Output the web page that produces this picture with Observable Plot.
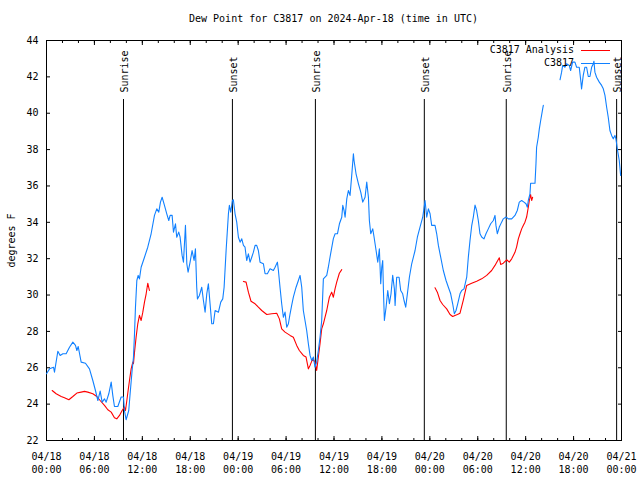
<!DOCTYPE html>
<html>
<head>
<meta charset="utf-8">
<script src="https://cdn.jsdelivr.net/npm/d3@7"></script>
<script src="https://cdn.jsdelivr.net/npm/@observablehq/plot@0.6"></script>
<style>
  html, body { margin: 0; padding: 0; background: #fff; }
  #wrap { position: relative; width: 640px; height: 480px; font-family: "DejaVu Sans Mono", "Liberation Mono", monospace; font-size: 10px; color: #000; }
  #title { position: absolute; left: 46px; top: 12px; width: 575px; text-align: center; line-height: 14px; white-space: pre; }
  #chart { position: absolute; left: 0; top: 30px; }
  .lg-row { position: absolute; height: 14px; line-height: 14px; }
  .lg-text { position: absolute; right: 66px; white-space: pre; }
  .lg-line { position: absolute; left: 581px; width: 29px; height: 0; }
</style>
</head>
<body>
<div id="wrap">
  <div id="title"></div>
  <div id="chart"></div>
  <div id="legend"></div>
</div>
<script>
// ---------- data ----------
const titleText = "Dew Point for C3817 on 2024-Apr-18 (time in UTC)";
const yLabel = "degrees F";
const startUTC = [2024, 3, 18];           // 04/18 00:00 UTC
const spanHours = 72;
const yDomain = [22, 44];
const yTicks = [22, 24, 26, 28, 30, 32, 34, 36, 38, 40, 42, 44];
const seriesNames = ["C3817 Analysis", "C3817"];
const seriesColors = ["#ff0000", "#1080ff"];

// observed dew point (hours since 04/18 00:00 UTC), null = gap
const obsHours = [0.0,0.38,0.88,1.0,1.42,1.71,2.05,2.46,2.88,3.3,3.63,3.8,3.97,4.34,4.88,5.38,5.8,6.13,6.43,6.72,6.97,7.26,7.47,7.8,8.1,8.3,8.51,8.93,9.35,9.64,9.76,9.97,10.3,10.47,10.72,10.89,11.02,11.14,11.31,11.48,11.64,11.85,12.27,12.68,13.1,13.52,13.81,14.06,14.27,14.48,14.77,15.06,15.31,15.48,15.73,15.9,16.15,16.31,16.56,16.73,16.98,17.15,17.4,17.57,17.73,17.98,18.23,18.48,18.65,
  18.81,18.9,19.15,19.44,19.65,19.86,20.07,20.27,20.48,20.69,20.9,21.11,21.53,21.82,22.07,22.24,22.49,22.78,22.9,23.07,23.28,23.4,23.61,23.82,24.03,24.24,24.45,24.66,24.86,25.07,25.28,25.49,25.7,25.91,26.12,26.32,26.53,26.74,27.16,27.37,27.66,27.99,28.41,28.62,28.91,29.04,29.24,29.45,29.66,29.87,30.08,30.29,30.5,30.7,30.91,31.25,31.54,31.75,31.96,32.16,32.37,32.58,32.79,33.0,33.21,33.42,33.62,33.83,34.04,34.25,34.46,34.67,35.09,35.29,35.5,35.92,
  36.14,36.43,36.68,36.97,37.1,37.26,37.39,37.6,37.8,38.01,38.22,38.43,38.51,38.76,39.06,39.35,39.6,39.89,40.1,40.31,40.43,40.6,40.85,41.02,41.27,41.48,41.68,41.85,41.98,42.1,42.19,42.31,42.52,42.73,42.94,43.14,43.35,43.56,43.65,43.85,44.15,44.35,44.6,44.77,44.98,45.19,45.44,45.73,46.15,46.44,46.77,47.11,47.32,47.4,47.61,47.82,48.03,48.23,48.65,48.86,49.07,49.36,49.69,50.03,50.32,50.61,50.86,51.07,51.28,51.49,51.78,51.99,52.28,52.62,52.82,
  53.03,53.24,53.45,53.66,53.86,54.07,54.28,54.49,54.78,55.03,55.32,55.62,55.95,56.16,56.28,56.45,56.7,56.99,57.2,57.54,57.83,58.25,58.66,58.95,59.2,59.5,59.79,60.04,60.21,60.33,60.54,60.62,61.17,61.29,61.37,61.58,61.71,61.88,62.13,62.21,
  63.2,
  64.3,64.5,64.63,64.92,65.13,65.46,65.63,65.88,66.17,66.38,66.71,66.92,67.0,67.21,67.42,67.63,67.84,68.05,68.26,68.47,68.55,68.67,68.88,69.22,69.51,69.72,69.93,70.14,70.34,70.55,70.76,70.97,71.18,71.3,71.51,71.72,71.89];
const obsDew = [25.67,25.94,26.03,25.76,26.91,26.68,26.77,26.77,27.13,27.41,27.23,26.95,27.17,26.31,26.25,25.94,25.3,24.75,24.2,24.72,24.11,24.29,24.11,24.57,25.21,24.48,23.87,23.87,24.39,24.39,23.65,23.14,23.65,24.57,25.85,26.58,27.87,29.33,30.8,31.08,30.89,31.53,32.08,32.63,33.37,34.38,34.74,34.56,35.11,35.38,34.93,34.47,34.1,34.38,34.38,33.46,33.92,33.18,33.46,33.18,32.18,31.81,33.83,31.72,31.26,31.81,32.45,31.9,32.54,
  30.43,29.79,29.98,30.43,29.7,29.06,30.07,30.62,29.52,28.42,28.42,29.15,29.06,29.61,29.79,30.43,32.45,34.47,34.93,34.56,35.2,35.24,34.47,34.01,33.18,32.91,33.09,32.73,32.63,31.9,32.27,31.81,32.08,32.36,32.73,32.73,32.45,31.81,31.72,31.17,31.17,31.44,31.35,31.53,31.81,31.35,30.43,29.52,28.78,29.06,28.23,28.42,28.97,29.43,29.88,30.43,30.8,31.08,30.43,29.15,28.6,28.05,27.32,26.68,26.4,26.59,26.03,26.31,26.95,27.68,28.6,30.89,31.08,31.53,32.08,33.1,
  33.37,33.37,33.92,34.28,34.93,34.65,34.28,35.29,35.75,35.48,36.58,37.77,37.4,36.67,36.12,35.66,35.11,35.38,36.21,35.38,34.1,33.37,33.64,33.18,32.45,31.81,32.54,30.62,31.53,31.9,30.25,28.6,29.33,30.25,29.52,30.07,31.08,30.34,29.43,30.98,30.98,30.25,30.07,29.7,29.33,30.07,30.98,31.72,32.45,33.18,33.73,34.28,34.93,35.2,34.28,34.74,34.47,33.83,33.83,33.37,32.73,32.08,31.35,30.8,30.43,30.07,29.52,28.97,29.15,29.52,30.07,30.25,30.34,30.98,32.08,
  33.0,33.8,34.3,34.95,34.65,34.1,33.37,33.19,33.09,33.37,33.64,33.92,34.1,34.38,33.83,33.37,33.74,34.01,34.19,34.29,34.19,34.19,34.38,34.65,35.11,35.2,35.11,35.02,34.83,35.2,35.57,36.15,36.15,37.22,38.13,38.68,39.14,39.6,40.24,40.43,
  null,
  41.84,42.26,42.63,42.53,42.72,42.63,42.35,42.81,42.81,42.53,42.53,41.71,41.34,42.08,42.53,42.53,42.02,42.02,42.53,42.72,42.86,42.26,41.98,41.71,41.53,41.34,40.98,40.33,39.78,39.05,38.78,38.59,38.78,38.59,37.95,37.4,36.58];

// analysis dew point (hours since 04/18 00:00 UTC), null = gap
const anaHours = [0.71,1.21,1.84,2.25,2.8,3.3,3.8,4.34,4.76,5.17,5.8,6.3,6.72,7.26,7.68,8.1,8.51,8.8,9.14,9.47,9.76,9.89,10.06,10.22,10.39,10.6,10.81,10.89,11.02,11.22,11.43,11.64,11.85,12.06,12.27,12.48,12.68,12.89,
  18,
  24.66,24.99,25.28,25.61,26.12,26.53,26.95,27.58,28.2,28.83,29.16,29.45,29.87,30.5,30.91,31.33,31.66,32.16,32.5,32.79,33.0,33.33,33.62,33.83,34.04,34.25,34.46,34.67,34.88,35.09,35.42,35.71,35.92,36.13,36.34,36.67,36.97,
  42,
  48.65,48.94,49.28,49.61,50.11,50.53,50.86,51.15,51.45,51.78,52.2,52.61,53.24,53.87,54.49,55.12,55.74,56.16,56.45,56.7,56.87,57.2,57.62,57.95,58.25,58.66,58.87,59.08,59.29,59.5,59.7,59.91,60.12,60.33,60.46,60.62,60.75,60.87];
const anaDew = [24.75,24.57,24.42,24.35,24.24,24.42,24.61,24.66,24.7,24.66,24.57,24.42,24.2,23.93,23.69,23.56,23.25,23.19,23.38,23.65,23.84,23.65,24.2,24.75,25.3,25.94,26.31,26.22,26.86,27.68,28.42,28.88,28.6,29.06,29.61,30.07,30.65,30.25,
  null,
  30.75,30.71,30.16,29.66,29.52,29.33,29.15,28.93,28.97,29.0,28.69,28.14,27.96,27.78,27.68,27.23,26.95,26.68,26.59,25.94,26.13,26.49,26.31,25.85,26.59,27.32,28.14,28.42,28.78,29.15,29.88,30.16,29.88,30.34,30.71,31.2,31.4,
  null,
  30.4,30.16,29.7,29.48,29.24,28.93,28.82,28.88,28.93,29.0,29.74,30.53,30.65,30.76,30.89,31.08,31.35,31.63,31.86,32.05,31.68,31.75,31.94,31.81,31.99,32.35,32.65,33.09,33.37,33.64,33.83,34.01,34.29,34.83,35.2,35.53,35.2,35.38];

// sunrise / sunset (hours since 04/18 00:00 UTC)
const sunHours = [9.64, 23.28, 33.67, 47.31, 57.57, 71.39];
const sunLabels = ["Sunrise", "Sunset", "Sunrise", "Sunset", "Sunrise", "Sunset"];

// ---------- build ----------
const t0 = Date.UTC(startUTC[0], startUTC[1], startUTC[2]);
const toDate = h => new Date(t0 + h * 3600e3);
const obs = obsHours.map((h, i) => ({t: toDate(h), v: obsDew[i]}));
const ana = anaHours.map((h, i) => ({t: toDate(h), v: anaDew[i]}));
const events = sunHours.map((h, i) => ({t: toDate(h), label: sunLabels[i]}));

document.getElementById("title").textContent = titleText;

const fmt = d3.utcFormat("%m/%d\n%H:%M");
const font = "DejaVu Sans Mono, Liberation Mono, monospace";

const chart = Plot.plot({
  width: 640,
  height: 450,
  marginTop: 10,
  marginBottom: 40,
  marginLeft: 46,
  marginRight: 19,
  style: {fontFamily: font, fontSize: "10px", color: "#000", background: "#fff", overflow: "visible"},
  x: {type: "utc", domain: [toDate(0), toDate(spanHours)]},
  y: {domain: yDomain},
  marks: [
    Plot.frame({stroke: "#000"}),
    Plot.axisX({anchor: "bottom", ticks: d3.utcHour.every(6), tickSize: 0, tickPadding: 11, tickFormat: fmt, lineHeight: 1.24, label: null, fontSize: 10}),
    Plot.axisX({anchor: "bottom", ticks: d3.utcHour.every(2), tickSize: -2, tickFormat: () => "", label: null}),
    Plot.axisX({anchor: "bottom", ticks: d3.utcHour.every(6), tickSize: -4, tickFormat: () => "", label: null}),
    Plot.axisX({anchor: "top", ticks: d3.utcHour.every(2), tickSize: -2, tickFormat: () => "", label: null}),
    Plot.axisX({anchor: "top", ticks: d3.utcHour.every(6), tickSize: -4, tickFormat: () => "", label: null}),
    Plot.axisY({anchor: "left", ticks: yTicks, tickSize: 0, tickPadding: 8, tickFormat: d => String(d), label: yLabel, labelAnchor: "center", labelOffset: 39, labelArrow: "none", fontSize: 10}),
    Plot.axisY({anchor: "left", ticks: yTicks, tickSize: -4, tickFormat: () => "", label: null}),
    Plot.axisY({anchor: "right", ticks: yTicks, tickSize: -4, tickFormat: () => "", label: null}),
    Plot.ruleX(events, {x: "t", stroke: "#000", strokeWidth: 1, insetTop: 59}),
    Plot.text(events, {x: "t", text: "label", frameAnchor: "top", rotate: -90, textAnchor: "start", dy: 52, dx: -2.5, fontSize: 10, fill: "#000"}),
    Plot.lineY(ana, {x: "t", y: "v", stroke: seriesColors[0], strokeWidth: 1.1}),
    Plot.lineY(obs, {x: "t", y: "v", stroke: seriesColors[1], strokeWidth: 1.1})
  ]
});
document.getElementById("chart").appendChild(chart);

// legend (inside plot area, top right)
const legend = document.getElementById("legend");
seriesNames.forEach((name, i) => {
  const cy = 50 + i * 12.5;
  const txt = document.createElement("div");
  txt.className = "lg-row lg-text";
  txt.style.top = (cy - 7) + "px";
  txt.textContent = name;
  legend.appendChild(txt);
  const ln = document.createElement("div");
  ln.className = "lg-line";
  ln.style.top = Math.round(cy) + "px";
  ln.style.borderTop = "1px solid " + seriesColors[i];
  legend.appendChild(ln);
});
</script>
</body>
</html>
